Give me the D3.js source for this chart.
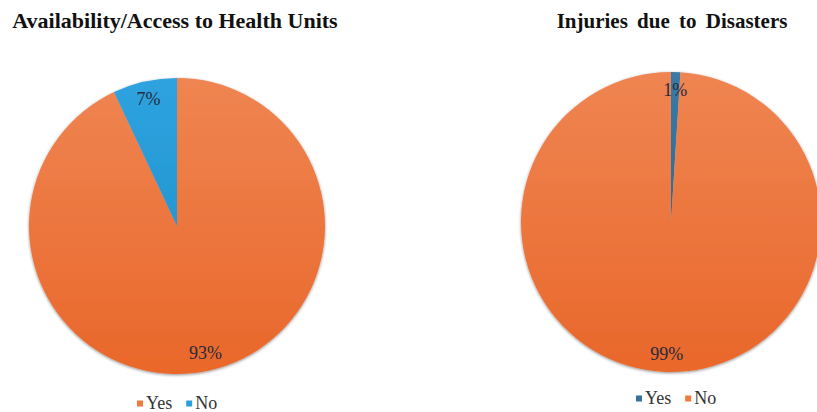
<!DOCTYPE html>
<html>
<head>
<meta charset="utf-8">
<script src="https://cdn.jsdelivr.net/npm/d3@7"></script>
<style>
  html, body { margin: 0; padding: 0; background: #fff; }
  svg { display: block; }
  svg text { font-family: "Liberation Serif", "DejaVu Serif", serif; }
</style>
</head>
<body>
<svg id="chart" width="817" height="412"></svg>
<script>
// Survey results, percent of respondents
const categories = ["Yes", "No"];
const accessValues = [93, 7];
const injuryValues = [1, 99];
const titles = ["Availability/Access to Health Units", "Injuries due to Disasters"];

const svg = d3.select("#chart");
const defs = svg.append("defs");

// soft outer shadow around each pie
const shadow = defs.append("filter").attr("id", "pieShadow")
  .attr("x", "-10%").attr("y", "-10%").attr("width", "120%").attr("height", "120%");
shadow.append("feGaussianBlur").attr("in", "SourceAlpha").attr("stdDeviation", 1.6).attr("result", "b");
shadow.append("feOffset").attr("in", "b").attr("dx", 0).attr("dy", 0.5).attr("result", "o");
shadow.append("feComponentTransfer").attr("in", "o").attr("result", "s")
  .append("feFuncA").attr("type", "linear").attr("slope", 0.45);
const merge = shadow.append("feMerge");
merge.append("feMergeNode").attr("in", "s");
merge.append("feMergeNode").attr("in", "SourceGraphic");

// vertical gradients: slightly lighter at the top, deeper at the bottom
function gradient(id, top, bottom) {
  const g = defs.append("linearGradient").attr("id", id)
    .attr("x1", 0).attr("y1", 0).attr("x2", 0).attr("y2", 1);
  g.append("stop").attr("offset", "0%").attr("stop-color", top);
  g.append("stop").attr("offset", "100%").attr("stop-color", bottom);
  return `url(#${id})`;
}
const orange = gradient("gOrange", "#ef8552", "#e9672a");
const lightBlue = gradient("gLightBlue", "#2ea3df", "#2497d2");
const darkBlue = gradient("gDarkBlue", "#3a7aa6", "#2d6b96");

const charts = [
  { title: titles[0], values: accessValues, cx: 177, cy: 226, r: 148,
    colors: { Yes: orange, No: lightBlue }, swatch: { Yes: "#ee7a3c", No: "#2a9fda" },
    legendX: 137, legendY: 403, titleX: 175, titleSize: 22, wordSpacing: 0 },
  { title: titles[1], values: injuryValues, cx: 671, cy: 222, r: 150,
    colors: { Yes: darkBlue, No: orange }, swatch: { Yes: "#31729e", No: "#ee7a3c" },
    legendX: 636, legendY: 398, titleX: 672, titleSize: 21, wordSpacing: 4 }
];

const pie = d3.pie().sort(null).value(d => d.value);

charts.forEach(c => {
  const data = categories.map((k, i) => ({ key: k, value: c.values[i] }));
  const arcs = pie(data);
  const arc = d3.arc().innerRadius(0).outerRadius(c.r);
  const labelArc = d3.arc().innerRadius(c.r * 0.88).outerRadius(c.r * 0.88);

  svg.append("text")
    .attr("x", c.titleX).attr("y", 28)
    .attr("text-anchor", "middle")
    .attr("font-size", c.titleSize).attr("font-weight", "bold")
    .attr("fill", "#111")
    .attr("word-spacing", c.wordSpacing)
    .text(c.title);

  const g = svg.append("g").attr("transform", `translate(${c.cx},${c.cy})`)
    .attr("filter", "url(#pieShadow)");

  g.selectAll("path").data(arcs).join("path")
    .attr("d", arc)
    .attr("fill", d => c.colors[d.data.key]);

  svg.append("g").attr("transform", `translate(${c.cx},${c.cy})`)
    .selectAll("text").data(arcs).join("text")
    .attr("transform", d => `translate(${labelArc.centroid(d)})`)
    .attr("text-anchor", "middle").attr("dy", "0.35em")
    .attr("font-size", 18).attr("fill", "#262a3c")
    .text(d => d.data.value + "%");

  // legend
  const lg = svg.append("g").attr("transform", `translate(${c.legendX},${c.legendY})`);
  let x = 0;
  categories.forEach(k => {
    lg.append("rect").attr("x", x).attr("y", -2.5).attr("width", 6).attr("height", 6)
      .attr("fill", c.swatch[k]);
    const t = lg.append("text").attr("x", x + 9).attr("y", 0).attr("dy", "0.35em")
      .attr("font-size", 18).attr("fill", "#333").text(k);
    x += 9 + t.node().getComputedTextLength() + 14;
  });
});
</script>
</body>
</html>
